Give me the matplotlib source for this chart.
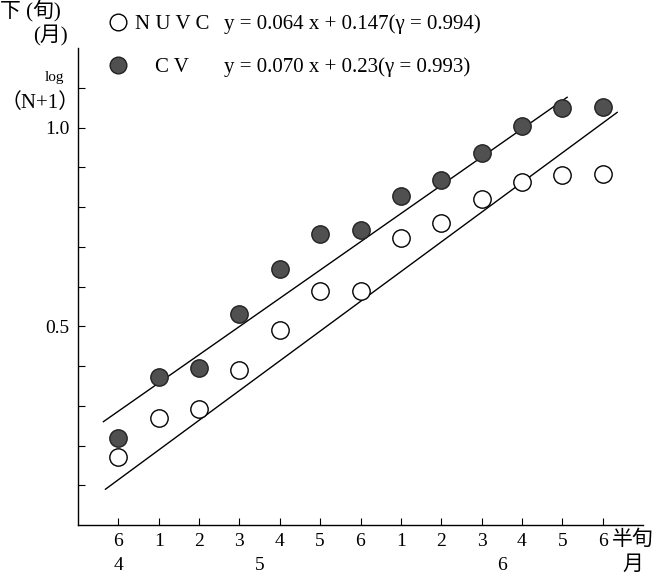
import matplotlib
matplotlib.use("Agg")
import matplotlib.pyplot as plt
from matplotlib.lines import Line2D

plt.rcParams['font.family'] = ['Liberation Serif', 'Noto Sans CJK JP', 'DejaVu Sans']

# --- data ---
half_labels = ['6', '1', '2', '3', '4', '5', '6', '1', '2', '3', '4', '5', '6']
month_labels = ['4', '5', '6']
month_pos = [0, 3.5, 9.5]
nuvc = [0.170, 0.269, 0.292, 0.391, 0.490, 0.589, 0.589, 0.721, 0.759, 0.820, 0.863, 0.881, 0.883]
cv = [0.218, 0.373, 0.396, 0.530, 0.645, 0.731, 0.741, 0.827, 0.868, 0.937, 1.003, 1.048, 1.051]
# fitted lines (as drawn): x endpoints, y endpoints
cv_line_x = [-0.37, 11.12]
cv_line_y = [0.260, 1.076]
nuvc_line_x = [-0.32, 12.36]
nuvc_line_y = [0.090, 1.038]
y_ticks = [0.1 * i for i in range(1, 12)]
y_labels = {0.5: '0.5', 1.0: '1.0'}

W, H = 671, 576
fig = plt.figure(figsize=(W / 100, H / 100), dpi=100)
ax = fig.add_axes([78 / W, 1 - 525 / H, (643 - 78) / W, (525 - 48) / H])

x = list(range(len(half_labels)))
ax.plot(cv_line_x, cv_line_y, color='black', lw=1.0)
ax.plot(nuvc_line_x, nuvc_line_y, color='black', lw=1.0)
ax.plot(x, nuvc, 'o', ms=12.5, mfc='white', mec='black', mew=1.0, zorder=3)
ax.plot(x, cv, 'o', ms=12.5, mfc='#505050', mec='#222222', mew=1.0, zorder=3)

ax.set_xlim(-1, 13)
ax.set_ylim(0, 1.2)
for s in ['top', 'right']:
    ax.spines[s].set_visible(False)
for s in ['left', 'bottom']:
    ax.spines[s].set_linewidth(1.0)

ax.set_xticks(x)
ax.set_xticklabels(half_labels, fontsize=14)
ax.set_yticks(y_ticks)
ax.set_yticklabels([y_labels.get(round(t, 1), '') for t in y_ticks], fontsize=14)
ax.tick_params(direction='in', length=5, width=0.8, pad=6)

for lab, p in zip(month_labels, month_pos):
    ax.text(p, -0.085, lab, transform=ax.get_xaxis_transform(), ha='center', va='center', fontsize=14)


def ftxt(px, py, s, **kw):
    fig.text(px / W, 1 - py / H, s, **kw)


ftxt(0, 11, '下 (旬)', ha='left', va='center', fontsize=15)
ftxt(68, 36, '(月)', ha='right', va='center', fontsize=15)
ftxt(54, 77, 'log', ha='center', va='center', fontsize=11)
ftxt(80, 103, '（N+1）', ha='right', va='center', fontsize=15)

fig.add_artist(Line2D([118 / W], [1 - 22 / H], marker='o', ms=12, mfc='white', mec='black', mew=1.0,
                      transform=fig.transFigure))
fig.add_artist(Line2D([118 / W], [1 - 65 / H], marker='o', ms=12, mfc='#505050', mec='#222222', mew=1.0,
                      transform=fig.transFigure))
ftxt(135, 29, 'N U V C', ha='left', va='baseline', fontsize=15)
ftxt(224, 29, 'y = 0.064 x + 0.147(γ = 0.994)', ha='left', va='baseline', fontsize=15)
ftxt(155, 72, 'C V', ha='left', va='baseline', fontsize=15)
ftxt(224, 72, 'y = 0.070 x + 0.23(γ = 0.993)', ha='left', va='baseline', fontsize=15)

ftxt(612, 540, '半旬', ha='left', va='center', fontsize=15)
ftxt(633, 565, '月', ha='center', va='center', fontsize=15)

fig.savefig('out.png', dpi=100)
